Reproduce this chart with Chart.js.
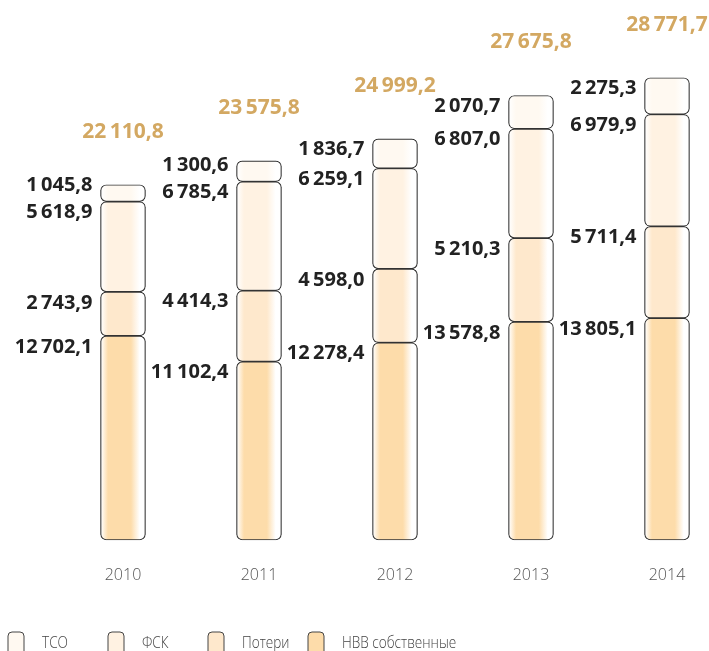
<!DOCTYPE html>
<html>
<head>
<meta charset="utf-8">
<script src="https://cdn.jsdelivr.net/npm/chart.js@4"></script>
<style>
  html, body { margin: 0; padding: 0; background: #fff; }
  #wrap { width: 709px; height: 651px; position: relative; }
</style>
</head>
<body>
<div id="wrap"><canvas id="costChart"></canvas></div>
<script>
const years = ['2010', '2011', '2012', '2013', '2014'];

const nvv = [12702.1, 11102.4, 12278.4, 13578.8, 13805.1];
const poteri = [2743.9, 4414.3, 4598.0, 5210.3, 5711.4];
const fsk = [5618.9, 6785.4, 6259.1, 6807.0, 6979.9];
const tso = [1045.8, 1300.6, 1836.7, 2070.7, 2275.3];
const totals = [22110.8, 23575.8, 24999.2, 27675.8, 28771.7];

const seriesNames = ['НВВ собственные', 'Потери', 'ФСК', 'ТСО'];
const seriesColors = ['#fddcaa', '#fee8cc', '#fff2e2', '#fff9f1'];

// 12702.1 -> "12 702,1"
function fmt(v) {
    const parts = v.toFixed(1).split('.');
    const int = parts[0].replace(/\B(?=(\d{3})+(?!\d))/g, '\u2009');
    return int + ',' + parts[1];
}

function barFill(color) {
    return function (ctx) {
        const chart = ctx.chart;
        const sx = chart.scales.x;
        if (!sx || !chart.chartArea || ctx.dataIndex === undefined) return color;
        const cx = sx.getPixelForValue(ctx.dataIndex);
        const g = chart.ctx.createLinearGradient(cx - 22, 0, cx + 22, 0);
        g.addColorStop(0, '#ffffff');
        g.addColorStop(0.16, color);
        g.addColorStop(0.68, color);
        g.addColorStop(0.88, '#ffffff');
        g.addColorStop(1, '#ffffff');
        return g;
    };
}

const labelPlugin = {
    id: 'segmentLabels',
    afterDatasetsDraw(chart) {
        const ctx = chart.ctx;
        ctx.save();
        ctx.textAlign = 'right';
        ctx.textBaseline = 'middle';
        ctx.font = '700 20px "Open Sans"';
        ctx.fillStyle = '#222';
        years.forEach((y, i) => {
            let prev = Infinity;
            let barLeft = 0, barCx = 0, topY = 0;
            chart.data.datasets.forEach((ds, d) => {
                const el = chart.getDatasetMeta(d).data[i];
                const top = Math.min(el.y, el.base);
                barLeft = el.x - el.width / 2;
                barCx = el.x;
                topY = top;
                let cy = Math.min(top + 11, prev - 27);
                prev = cy;
                ctx.fillText(fmt(ds.data[i]), barLeft - 8, cy);
            });
            ctx.save();
            ctx.textAlign = 'center';
            ctx.fillStyle = '#d3a862';
            ctx.font = '700 21px "Open Sans"';
            ctx.fillText(fmt(totals[i]), barCx, topY - 53);
            ctx.font = '300 16px "Open Sans"';
            ctx.fillStyle = '#555';
            ctx.fillText(y, barCx, 575);
            ctx.restore();
        });

        // legend
        const order = [3, 2, 1, 0];
        ctx.textAlign = 'left';
        order.forEach((d, k) => {
            const x = 8 + k * 100;
            ctx.beginPath();
            ctx.roundRect(x, 632, 16, 24, 4);
            ctx.fillStyle = seriesColors[d];
            ctx.fill();
            ctx.lineWidth = 1;
            ctx.strokeStyle = '#444';
            ctx.stroke();
            ctx.save();
            ctx.translate(x + 34, 643);
            ctx.scale(0.8, 1);
            ctx.font = '300 17px "Open Sans"';
            ctx.fillStyle = '#444';
            ctx.fillText(seriesNames[d], 0, 0);
            ctx.restore();
        });
        ctx.restore();
    }
};

const datasets = [nvv, poteri, fsk, tso].map((arr, d) => ({
    label: seriesNames[d],
    data: arr,
    backgroundColor: barFill(seriesColors[d]),
    borderColor: '#333',
    borderWidth: 1.2,
    borderSkipped: false,
    borderRadius: {topLeft: 6, topRight: 6, bottomLeft: 6, bottomRight: 6},
    barThickness: 45,
    clip: false
}));

new Chart(document.getElementById('costChart'), {
    type: 'bar',
    data: { labels: years, datasets: datasets },
    options: {
        responsive: true,
        maintainAspectRatio: false,
        animation: false,
        layout: { padding: { left: 123, right: 42, top: 58, bottom: 111 } },
        plugins: { legend: { display: false }, tooltip: { enabled: false } },
        scales: {
            x: { display: false, stacked: true, offset: false },
            y: { display: false, stacked: true, min: 0, max: 30000 }
        }
    },
    plugins: [labelPlugin]
});
</script>
</body>
</html>
